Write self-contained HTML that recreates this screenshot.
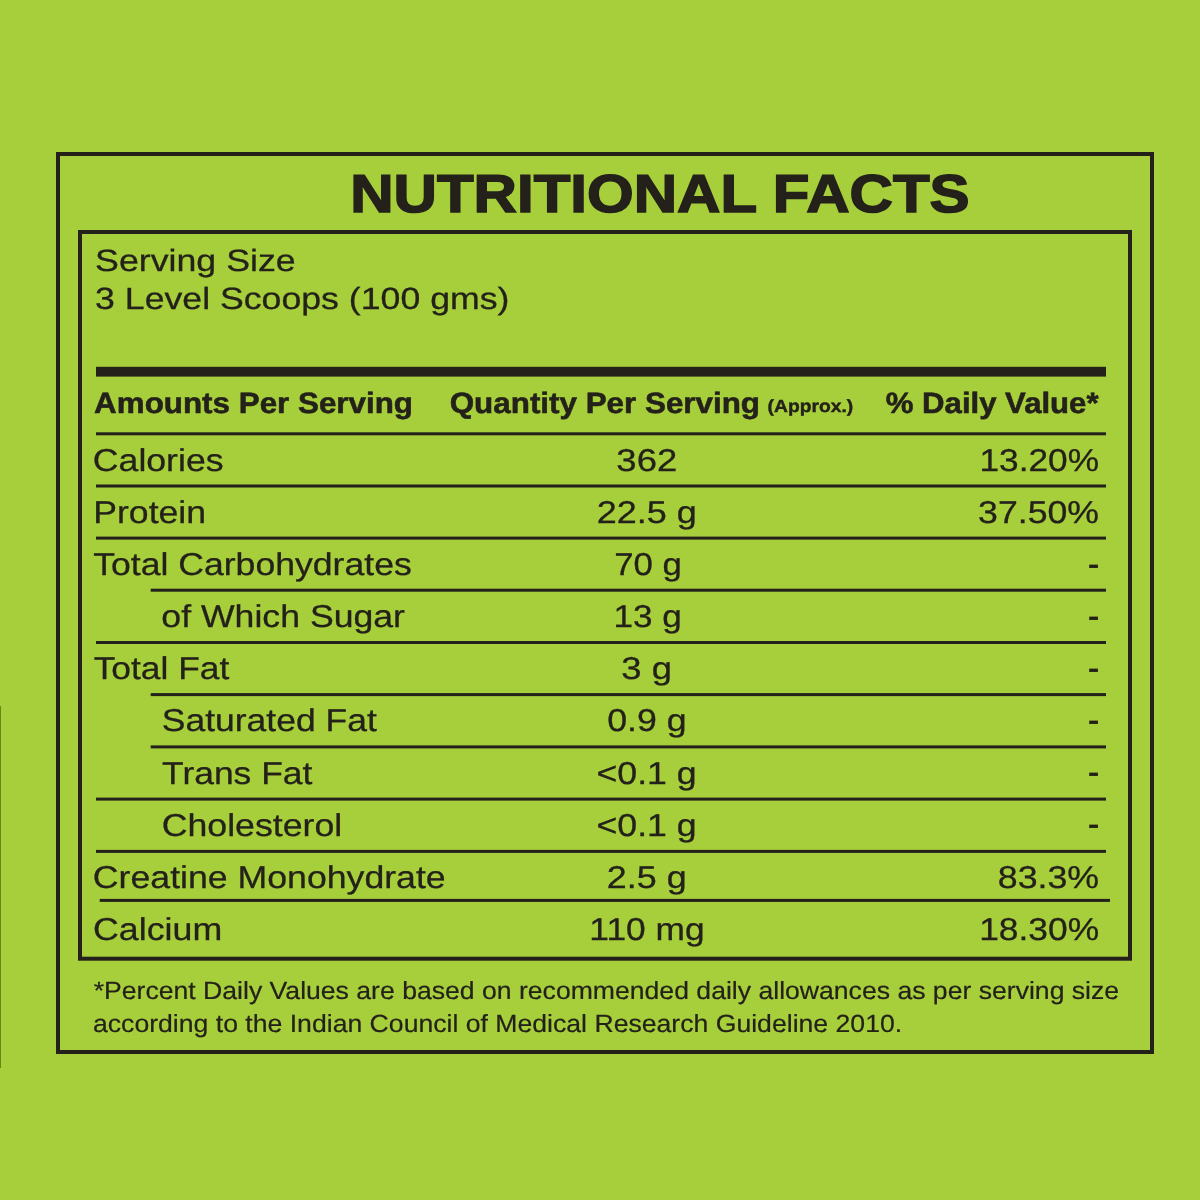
<!DOCTYPE html>
<html lang="en">
<head>
<meta charset="utf-8">
<title>Nutritional Facts</title>
<style>
html,body{margin:0;padding:0;}
body{width:1200px;height:1200px;background:#a7cf3c;position:relative;overflow:hidden;font-family:"Liberation Sans",Arial,Helvetica,sans-serif;color:#23211a;}
svg{position:absolute;left:0;top:0;}
.txt{font-family:"Liberation Sans",Arial,Helvetica,sans-serif;text-rendering:geometricPrecision;white-space:pre;}
.b{font-weight:700;}
.r{font-weight:400;}
</style>
</head>
<body>
<svg width="1200" height="1200" viewBox="0 0 1200 1200" fill="#23211a">
<rect x="96" y="366.8" width="1010" height="9.8" />
<rect x="96.0" y="432.30" width="1010.0" height="3.0" />
<rect x="96.0" y="484.50" width="1010.0" height="3.0" />
<rect x="96.0" y="536.60" width="1010.0" height="3.0" />
<rect x="150.7" y="588.70" width="955.3" height="3.0" />
<rect x="96.0" y="641.00" width="1010.0" height="3.0" />
<rect x="150.7" y="693.10" width="955.3" height="3.0" />
<rect x="150.7" y="745.40" width="955.3" height="3.0" />
<rect x="96.0" y="797.60" width="1010.0" height="3.0" />
<rect x="96.0" y="849.90" width="1010.0" height="3.0" />
<rect x="99.7" y="898.90" width="1010.3" height="3.0" />
<rect x="58" y="154" width="1094" height="898" fill="none" stroke="#23211a" stroke-width="4" />
<rect x="80" y="232" width="1050" height="726.7" fill="none" stroke="#23211a" stroke-width="4" />
<rect x="0" y="706" width="1" height="362" fill="#63890f" />
<g class="txt" stroke="#23211a">
<text class="b" transform="translate(350.13,212) scale(1.1263,1)" font-size="53.34" stroke-width="1.5">NUTRITIONAL FACTS</text>
<text class="r" transform="translate(95.04,271) scale(1.1592,1)" font-size="30.84" stroke-width="0.28">Serving Size</text>
<text class="r" transform="translate(95.10,309) scale(1.1621,1)" font-size="30.7" stroke-width="0.28">3 Level Scoops (100 gms)</text>
<text class="b" transform="translate(94.11,413) scale(1.0659,1)" font-size="29.43" stroke-width="0.55">Amounts Per Serving</text>
<text class="b" transform="translate(449.71,413) scale(1.0663,1)" font-size="29.43" stroke-width="0.55">Quantity Per Serving</text>
<text class="b" transform="translate(767.56,412) scale(1.0974,1)" font-size="17.59" stroke-width="0.4">(Approx.)</text>
<text class="b" transform="translate(885.82,413) scale(1.0572,1)" font-size="29.43" stroke-width="0.55">% Daily Value*</text>
<text class="r" transform="translate(92.85,471) scale(1.1285,1)" font-size="31.57" stroke-width="0.28">Calories</text>
<text class="r" transform="translate(93.24,523) scale(1.1279,1)" font-size="31.57" stroke-width="0.28">Protein</text>
<text class="r" transform="translate(93.16,575) scale(1.1279,1)" font-size="31.57" stroke-width="0.28">Total Carbohydrates</text>
<text class="r" transform="translate(161.36,627) scale(1.1290,1)" font-size="31.57" stroke-width="0.28">of Which Sugar</text>
<text class="r" transform="translate(93.66,679) scale(1.1212,1)" font-size="31.57" stroke-width="0.28">Total Fat</text>
<text class="r" transform="translate(161.85,731) scale(1.1237,1)" font-size="31.57" stroke-width="0.28">Saturated Fat</text>
<text class="r" transform="translate(162.06,784) scale(1.1227,1)" font-size="31.57" stroke-width="0.28">Trans Fat</text>
<text class="r" transform="translate(161.65,836) scale(1.1309,1)" font-size="31.57" stroke-width="0.28">Cholesterol</text>
<text class="r" transform="translate(92.85,888) scale(1.1297,1)" font-size="31.57" stroke-width="0.28">Creatine Monohydrate</text>
<text class="r" transform="translate(93.04,940) scale(1.1327,1)" font-size="31.57" stroke-width="0.28">Calcium</text>
<text class="r" transform="translate(616.37,471) scale(1.1542,1)" font-size="31.57" stroke-width="0.28">362</text>
<text class="r" transform="translate(596.65,523) scale(1.1418,1)" font-size="31.57" stroke-width="0.28">22.5 g</text>
<text class="r" transform="translate(614.17,575) scale(1.1021,1)" font-size="31.57" stroke-width="0.28">70 g</text>
<text class="r" transform="translate(613.48,627) scale(1.1137,1)" font-size="31.57" stroke-width="0.28">13 g</text>
<text class="r" transform="translate(621.37,679) scale(1.1532,1)" font-size="31.57" stroke-width="0.28">3 g</text>
<text class="r" transform="translate(607.26,731) scale(1.1305,1)" font-size="31.57" stroke-width="0.28">0.9 g</text>
<text class="r" transform="translate(596.50,784) scale(1.1296,1)" font-size="31.57" stroke-width="0.28">&lt;0.1 g</text>
<text class="r" transform="translate(596.50,836) scale(1.1296,1)" font-size="31.57" stroke-width="0.28">&lt;0.1 g</text>
<text class="r" transform="translate(606.85,888) scale(1.1365,1)" font-size="31.57" stroke-width="0.28">2.5 g</text>
<text class="r" transform="translate(589.36,940) scale(1.1195,1)" font-size="31.57" stroke-width="0.28">110 mg</text>
<text class="r" transform="translate(979.47,471) scale(1.1173,1)" font-size="31.57" stroke-width="0.28">13.20%</text>
<text class="r" transform="translate(978.10,523) scale(1.1302,1)" font-size="31.57" stroke-width="0.28">37.50%</text>
<text class="r" transform="translate(1087.77,577) scale(0.8760,1)" font-size="40.0" stroke-width="0.28">-</text>
<text class="r" transform="translate(1087.77,629) scale(0.8760,1)" font-size="40.0" stroke-width="0.28">-</text>
<text class="r" transform="translate(1087.77,681) scale(0.8760,1)" font-size="40.0" stroke-width="0.28">-</text>
<text class="r" transform="translate(1087.77,733) scale(0.8760,1)" font-size="40.0" stroke-width="0.28">-</text>
<text class="r" transform="translate(1087.77,785) scale(0.8760,1)" font-size="40.0" stroke-width="0.28">-</text>
<text class="r" transform="translate(1087.77,837) scale(0.8760,1)" font-size="40.0" stroke-width="0.28">-</text>
<text class="r" transform="translate(997.81,888) scale(1.1318,1)" font-size="31.57" stroke-width="0.28">83.3%</text>
<text class="r" transform="translate(979.16,940) scale(1.1202,1)" font-size="31.57" stroke-width="0.28">18.30%</text>
<text class="r" transform="translate(93.68,999) scale(1.0705,1)" font-size="24.85" stroke-width="0.2">*Percent Daily Values are based on recommended daily allowances as per serving size</text>
<text class="r" transform="translate(92.98,1032) scale(1.0711,1)" font-size="24.85" stroke-width="0.2">according to the Indian Council of Medical Research Guideline 2010.</text>
</g>
</svg>
</body>
</html>
